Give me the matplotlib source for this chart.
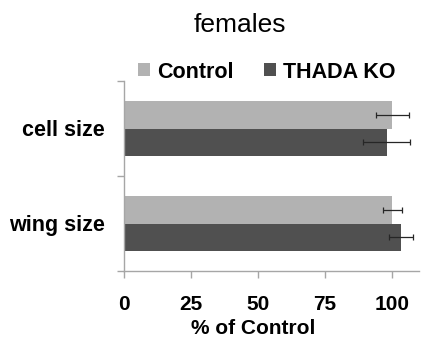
import numpy as np
import matplotlib.pyplot as plt

plt.rcParams['font.family'] = ['Liberation Sans', 'DejaVu Sans']

# data (% of control)
categories = ["wing size", "cell size"]
series_names = ["Control", "THADA KO"]
control_vals = [100.0, 100.0]
control_err = [3.5, 6.2]
ko_vals = [103.3, 98.0]
ko_err = [4.5, 8.7]
x_ticks = [0, 25, 50, 75, 100]

colors = ["#b2b2b2", "#505050"]
axis_gray = "#a6a6a6"

fig = plt.figure(figsize=(4.25, 3.38), dpi=100)
ax = fig.add_axes([124/425, 1 - 271/338, (419 - 124)/425, (271 - 81)/338])

y = np.arange(len(categories))
h = 0.285
off = 0.1425
err_kw = dict(ecolor="#262626", elinewidth=0.9, capsize=2.0, capthick=0.9)
ax.barh(y + off, control_vals, height=h, xerr=control_err, color=colors[0],
        label=series_names[0], error_kw=err_kw)
ax.barh(y - off, ko_vals, height=h, xerr=ko_err, color=colors[1],
        label=series_names[1], error_kw=err_kw)

ax.set_xlim(0, 110)
ax.set_ylim(-0.5, len(categories) - 0.5)
ax.set_xticks(x_ticks)
ax.set_xticklabels([str(t) for t in x_ticks], fontsize=15, fontweight="bold")

# category boundaries as major ticks, labels on minor ticks
ax.set_yticks(np.arange(-0.5, len(categories), 1.0))
ax.set_yticklabels([])
ax.set_yticks(y, minor=True)
ax.set_yticklabels(categories, minor=True, fontsize=15.5, fontweight="bold")
ax.tick_params(axis="y", which="minor", length=0, pad=13.5)
ax.tick_params(axis="both", which="major", length=5, width=1, color=axis_gray)
ax.tick_params(axis="x", pad=12)

for s in ["top", "right"]:
    ax.spines[s].set_visible(False)
for s in ["left", "bottom"]:
    ax.spines[s].set_color(axis_gray)
    ax.spines[s].set_linewidth(1)

fig.text(240/425, 1 - 25/338, "females", ha="center", va="center", fontsize=19)
fig.text(253/425, 1 - 328/338, "% of Control", ha="center", va="center",
         fontsize=15, fontweight="bold")

leg = fig.legend(loc="center", bbox_to_anchor=(267/425, 1 - 72/338), ncol=2,
                 frameon=False, prop={"size": 15.5, "weight": "bold"},
                 handlelength=0.55, handleheight=0.55, handletextpad=0.35,
                 columnspacing=1.4, borderpad=0)

fig.savefig("out.png", dpi=100)
